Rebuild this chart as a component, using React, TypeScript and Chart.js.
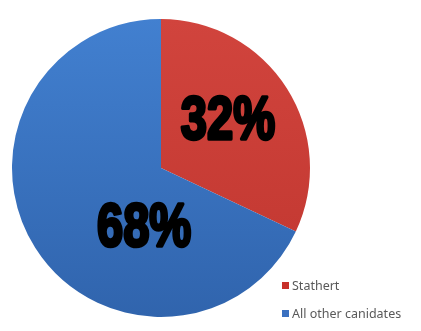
import React, { useEffect, useRef } from "react";
import { Chart, registerables } from "chart.js";

Chart.register(...registerables);

const labels = ["Stathert", "All other canidates"];
const values = [32, 68];
const valueLabels = ["32%", "68%"];
const topColors = ["#d1443d", "#4280d0"];
const bottomColors = ["#c0362f", "#3064ad"];
const legendColors = ["#c8302a", "#3a70c0"];
// label placement offsets (px) relative to each arc's tooltip position
const labelOffsets = [
  [4, -11],
  [46, 16],
];

const labelPlugin = {
  id: "pctLabels",
  afterDatasetsDraw(chart: any) {
    const ctx = chart.ctx;
    const meta = chart.getDatasetMeta(0);
    meta.data.forEach((arc: any, i: number) => {
      const p = arc.tooltipPosition();
      const x = p.x + labelOffsets[i][0];
      const y = p.y + labelOffsets[i][1];
      ctx.save();
      ctx.translate(x, y);
      ctx.scale(0.76, 1);
      ctx.font = 'bold 62px "Liberation Sans", Arial, sans-serif';
      ctx.textAlign = "center";
      ctx.textBaseline = "alphabetic";
      ctx.fillStyle = "#000";
      ctx.strokeStyle = "#000";
      ctx.lineWidth = 3.5;
      ctx.lineJoin = "round";
      ctx.strokeText(valueLabels[i], 0, 22);
      ctx.fillText(valueLabels[i], 0, 22);
      ctx.restore();
    });
  },
};

const legendPlugin = {
  id: "customLegend",
  afterDraw(chart: any) {
    const ctx = chart.ctx;
    const ys = [286, 314];
    ctx.save();
    chart.data.labels.forEach((lab: string, i: number) => {
      const y = ys[i];
      ctx.fillStyle = legendColors[i];
      ctx.fillRect(282, y - 4, 7, 7);
      ctx.font = '12.5px "Noto Sans", sans-serif';
      ctx.fillStyle = "#595959";
      ctx.textBaseline = "middle";
      ctx.textAlign = "left";
      ctx.fillText(lab, 292, y);
    });
    ctx.restore();
  },
};

export default function App() {
  const ref = useRef<HTMLCanvasElement>(null);
  useEffect(() => {
    const canvas = ref.current!;
    const chart = new Chart(canvas, {
      type: "pie",
      data: {
        labels,
        datasets: [
          {
            data: values,
            borderWidth: 0,
            backgroundColor: (c: any) => {
              const area = c.chart.chartArea;
              const i = c.dataIndex;
              if (!area) return topColors[i];
              const g = c.chart.ctx.createLinearGradient(0, area.top, 0, area.bottom);
              g.addColorStop(0, topColors[i]);
              g.addColorStop(1, bottomColors[i]);
              return g;
            },
          },
        ],
      },
      options: {
        animation: false,
        responsive: false,
        layout: { padding: { left: 12, right: 111, top: 18, bottom: 13 } },
        plugins: {
          legend: { display: false },
          tooltip: { enabled: false },
        },
      },
      plugins: [labelPlugin, legendPlugin],
    });
    return () => chart.destroy();
  }, []);
  return (
    <div style={{ position: "fixed", left: 0, top: 0, width: 421, height: 331, background: "#fff" }}>
      <canvas ref={ref} width={421} height={331} style={{ width: 421, height: 331 }} />
    </div>
  );
}
